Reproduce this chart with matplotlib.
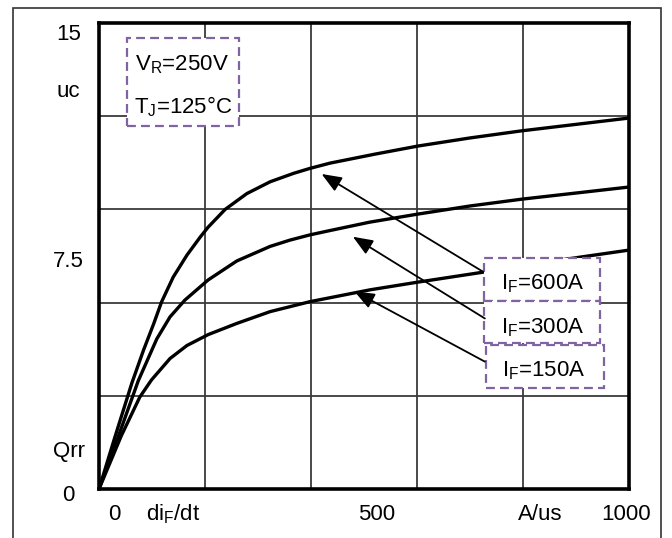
import matplotlib
matplotlib.use("Agg")
import matplotlib.pyplot as plt
from matplotlib.patches import Rectangle

plt.rcParams['font.family'] = ['Liberation Sans', 'DejaVu Sans']

# Qrr vs diF/dt (A/us -> uC)
x_600 = [0, 30, 62, 84, 103, 118, 140, 166, 191, 206, 238, 279, 323, 367, 398, 436, 521, 602, 700, 798, 1000]
y_600 = [0, 1.67, 3.41, 4.47, 5.31, 6.02, 6.82, 7.53, 8.11, 8.43, 9.00, 9.51, 9.89, 10.16, 10.32, 10.49, 10.78, 11.04, 11.30, 11.53, 11.94]

x_300 = [0, 36, 74, 109, 134, 162, 206, 260, 323, 360, 398, 436, 511, 602, 700, 798, 1000]
y_300 = [0, 1.67, 3.48, 4.83, 5.54, 6.08, 6.73, 7.34, 7.81, 8.01, 8.18, 8.32, 8.59, 8.85, 9.11, 9.33, 9.72]

x_150 = [0, 42, 77, 99, 134, 166, 206, 260, 323, 398, 511, 602, 725, 870, 1000]
y_150 = [0, 1.71, 2.96, 3.51, 4.20, 4.62, 4.97, 5.33, 5.71, 6.03, 6.41, 6.66, 6.98, 7.37, 7.69]

series_labels = ["I$_\\mathregular{F}$=600A", "I$_\\mathregular{F}$=300A", "I$_\\mathregular{F}$=150A"]
cond_labels = ["V$_\\mathregular{R}$=250V", "T$_\\mathregular{J}$=125°C"]
x_labels = ["0", "di$_\\mathregular{F}$/dt", "500", "A/us", "1000"]
y_labels = ["15", "uc", "7.5", "Qrr", "0"]

PURPLE = '#8064A2'
FS = 16


def draw_chart(save_path="out.png"):
    fig = plt.figure(figsize=(6.72, 5.38), dpi=100)
    ax = fig.add_axes([99 / 672, 1 - 489 / 538, 530 / 672, 466 / 538])
    ax.set_xlim(0, 1000)
    ax.set_ylim(0, 15)

    # grid only, labels are placed by hand like on the datasheet
    ax.set_xticks([200, 400, 600, 800])
    ax.set_yticks([3, 6, 9, 12])
    ax.tick_params(length=0, labelbottom=False, labelleft=False)
    ax.grid(True, color='#3a3a3a', lw=1.3)
    ax.set_axisbelow(True)
    for sp in ax.spines.values():
        sp.set_linewidth(2.6)
        sp.set_color('black')

    for xs, ys in [(x_600, y_600), (x_300, y_300), (x_150, y_150)]:
        ax.plot(xs, ys, color='black', lw=2.4, zorder=3,
                solid_capstyle='round', solid_joinstyle='round')

    # outer frame of the figure
    fig.patches.append(Rectangle((13 / 672, -0.05), 648 / 672, 1.05 - 8 / 538,
                                 transform=fig.transFigure, fill=False,
                                 lw=1.2, ec='#333333'))

    # conditions box
    dash = (0, (4, 2.3))
    ax.add_patch(Rectangle((53, 11.68), 211, 2.84, fc='white', ec=PURPLE,
                           lw=1.6, ls=dash, zorder=5))
    ax.text(157, 13.49, cond_labels[0], ha='center', va='baseline', fontsize=FS, zorder=6)
    ax.text(158, 12.10, cond_labels[1], ha='center', va='baseline', fontsize=FS, zorder=6)

    # current labels with arrows
    boxes = [(726, 6.05, 219, 1.39), (726, 4.70, 219, 1.35), (730, 3.25, 222, 1.39)]
    text_pos = [(837, 6.41), (837, 5.02), (840, 3.61)]
    tails = [(725, 6.99), (728, 5.49), (728, 4.10)]
    heads = [(420, 10.14), (479, 8.12), (482, 6.36)]
    for lab, (bx, by, bw, bh), (tx, ty), tail, head in zip(series_labels, boxes, text_pos, tails, heads):
        ax.add_patch(Rectangle((bx, by), bw, bh, fc='white', ec=PURPLE,
                               lw=1.6, ls=dash, zorder=5))
        ax.text(tx, ty, lab, ha='center', va='baseline', fontsize=FS, zorder=6)
        ax.annotate('', xy=head, xytext=tail, zorder=7,
                    arrowprops=dict(arrowstyle='-|>,head_length=0.55,head_width=0.22',
                                    color='black', lw=1.3, mutation_scale=22,
                                    shrinkA=0, shrinkB=0))

    # axis labels
    x_pos = [28, 139, 523, 832, 994]
    for lab, xp in zip(x_labels, x_pos):
        ax.text(xp, -1.0, lab, ha='center', va='baseline', fontsize=FS, clip_on=False)
    y_pos = [14.45, 12.62, 7.15, 1.03, -0.39]
    for lab, yp in zip(y_labels, y_pos):
        ax.text(-57.5, yp, lab, ha='center', va='baseline', fontsize=FS, clip_on=False)

    fig.savefig(save_path, dpi=100)


if __name__ == "__main__":
    draw_chart()
